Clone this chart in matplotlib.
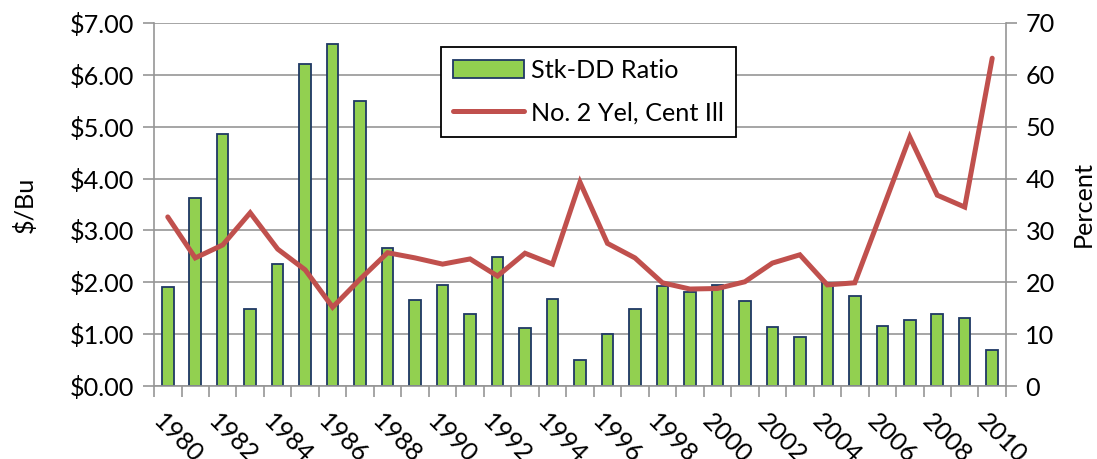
import numpy as np
import matplotlib
matplotlib.use('Agg')
import matplotlib.pyplot as plt
from matplotlib.patches import Patch
from matplotlib.lines import Line2D

plt.rcParams['font.family'] = ['Lato', 'DejaVu Sans']

years = list(range(1980, 2011))
# stocks to disappearance ratio, percent (right axis)
stk_dd = [19.1, 36.3, 48.6, 14.8, 23.5, 62.1, 65.9, 55.0, 26.6, 16.6,
          19.5, 13.9, 24.9, 11.2, 16.8, 5.0, 10.0, 14.8, 19.3, 18.1,
          19.4, 16.3, 11.4, 9.4, 19.9, 17.4, 11.6, 12.8, 13.8, 13.1, 6.9]
# No. 2 yellow corn, central Illinois, $/bu (left axis)
price = [3.26, 2.47, 2.72, 3.34, 2.64, 2.24, 1.52, 2.06, 2.57, 2.47,
         2.35, 2.45, 2.12, 2.56, 2.35, 3.93, 2.75, 2.47, 1.99, 1.87,
         1.88, 2.01, 2.37, 2.53, 1.95, 1.99, 3.39, 4.80, 3.68, 3.45, 6.32]
left_ticks = [0, 1, 2, 3, 4, 5, 6, 7]
right_ticks = [0, 10, 20, 30, 40, 50, 60, 70]

green = '#92D050'
navy = '#1F3864'
red = '#C0504D'
grey = '#969696'
fs = 18.2

fig = plt.figure(figsize=(10.97, 4.59), dpi=100)
ax = fig.add_axes([0.1404, 0.159, 0.7766, 0.791])
ax2 = ax.twinx()

x = np.arange(len(years))
ax2.bar(x, stk_dd, width=0.42, color=green, edgecolor=navy, linewidth=1.3, zorder=2)
ax2.set_ylim(0, 70)
ax2.set_yticks(right_ticks)
ax2.yaxis.grid(True, color=grey, linewidth=1.2, zorder=0)
ax2.set_axisbelow(True)

ax.plot(x, price, color=red, linewidth=3.6, solid_capstyle='round', solid_joinstyle='miter', zorder=3)
ax.set_ylim(0, 7)
ax.set_yticks(left_ticks)
ax.set_yticklabels(['$%.2f' % v for v in left_ticks])
ax.set_zorder(ax2.get_zorder() + 1)
ax.patch.set_visible(False)

ax.set_xlim(-0.5, len(years) - 0.5)
ax.set_xticks(np.arange(-0.5, len(years), 1.0))
ax.set_xticklabels([])
ax.set_xticks(x[::2] - 0.1, minor=True)
ax.set_xticklabels([str(y) for y in years[::2]], minor=True, rotation=-45,
                   ha='left', va='top', rotation_mode='anchor', fontsize=fs)
ax.tick_params(axis='x', which='major', length=8, color=grey, width=1.2)
ax.tick_params(axis='x', which='minor', length=0, pad=17)

for a in (ax, ax2):
    for s in a.spines.values():
        s.set_visible(False)
ax.spines['left'].set_visible(True)
ax.spines['left'].set_color(grey)
ax.spines['left'].set_linewidth(1.2)
ax.spines['bottom'].set_visible(True)
ax.spines['bottom'].set_color(grey)
ax.spines['bottom'].set_linewidth(1.2)
ax2.spines['right'].set_visible(True)
ax2.spines['right'].set_color(grey)
ax2.spines['right'].set_linewidth(1.2)

ax.tick_params(axis='y', length=8, color=grey, width=1.2, labelsize=fs, pad=6)
ax2.tick_params(axis='y', length=8, color=grey, width=1.2, labelsize=fs, pad=6)

ax.set_ylabel('$/Bu', fontsize=fs, labelpad=24)
ax2.set_ylabel('Percent', fontsize=fs, labelpad=12)

handles = [Patch(facecolor=green, edgecolor=navy, linewidth=1.3),
           Line2D([0], [0], color=red, linewidth=3.6, solid_capstyle='round')]
leg = ax.legend(handles, ['Stk-DD Ratio', 'No. 2 Yel, Cent Ill'],
                loc='upper left', bbox_to_anchor=(0.3366, 0.935), fontsize=fs,
                frameon=True, fancybox=False, edgecolor='black', framealpha=1,
                handlelength=2.8, handletextpad=0.25, borderpad=0.5,
                labelspacing=0.75, borderaxespad=0)
leg.get_frame().set_linewidth(1.3)

fig.savefig('out.png', dpi=100)
